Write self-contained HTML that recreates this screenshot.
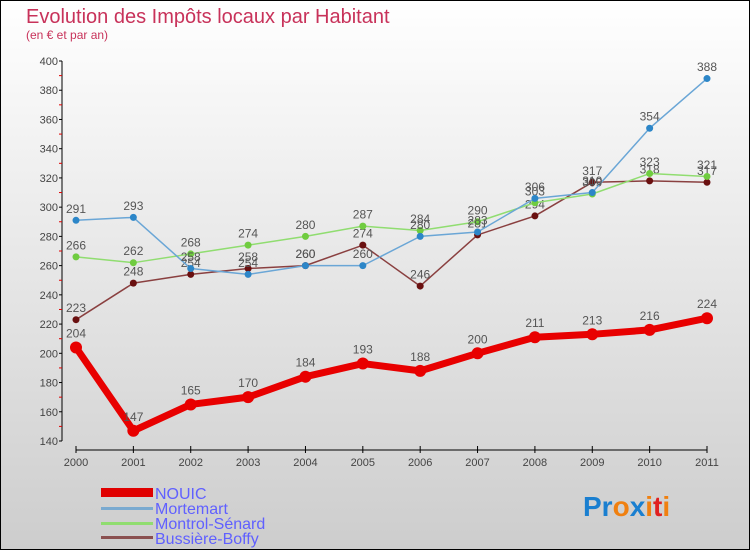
<!DOCTYPE html>
<html><head><meta charset="utf-8"><style>
html,body{margin:0;padding:0}
body{width:750px;height:550px;overflow:hidden;font-family:"Liberation Sans",sans-serif}
#wrap{position:relative;width:748px;height:548px;border:1px solid #000;background:linear-gradient(#ffffff,#cdcdcd)}
</style></head><body>
<div id="wrap">
<svg id="chart" width="748" height="548" style="position:absolute;left:0;top:0">
<text x="25" y="22" font-size="20" fill="#c8325a">Evolution des Impôts locaux par Habitant</text>
<text x="25" y="38" font-size="12" fill="#c8325a">(en € et par an)</text>
<g id="axes"></g><g id="series"></g>
<g font-size="16" fill="#6060ff">
<rect x="100" y="487" width="52" height="9" fill="#e00000"/>
<text x="154" y="498">NOUIC</text>
<rect x="100" y="506" width="52" height="3" fill="#7aaad0"/>
<text x="154" y="513">Mortemart</text>
<rect x="100" y="521" width="52" height="3" fill="#90dd70"/>
<text x="154" y="528">Montrol-Sénard</text>
<rect x="100" y="535" width="52" height="3" fill="#8a5050"/>
<text x="154" y="543">Bussière-Boffy</text>
</g>
<text x="582" y="515" font-size="28" font-weight="bold"><tspan fill="#1a7fd0">Pr</tspan><tspan fill="#f08010">o</tspan><tspan fill="#1a7fd0">x</tspan><tspan fill="#f08010">i</tspan><tspan fill="#e02020">t</tspan><tspan fill="#f08010">i</tspan></text>
</svg>
</div>
<script>
const years=[2000,2001,2002,2003,2004,2005,2006,2007,2008,2009,2010,2011];
const yTicks=[140,160,180,200,220,240,260,280,300,320,340,360,380,400];
const nouic=[204,147,165,170,184,193,188,200,211,213,216,224];
const mortemart=[291,293,258,254,260,260,280,283,306,310,354,388];
const montrol=[266,262,268,274,280,287,284,290,303,309,323,321];
const bussiere=[223,248,254,258,260,274,246,281,294,317,318,317];
const NS="http://www.w3.org/2000/svg";
const X=i=>75+i*(706-75)/11;
const Y=v=>440-(v-140)*(380/260);
function mk(tag,attrs,parent){const e=document.createElementNS(NS,tag);for(const k in attrs)e.setAttribute(k,attrs[k]);parent.appendChild(e);return e;}
const ax=document.getElementById('axes');
let yl=mk('line',{x1:61,y1:Y(400),x2:61,y2:Y(140),stroke:'#000'},ax);


yTicks.forEach((t,i)=>{
 mk('line',{x1:58,x2:61,y1:Y(t),y2:Y(t),stroke:'#000'},ax);
 if(i<yTicks.length-1)mk('line',{x1:58,x2:61,y1:Y(t+10),y2:Y(t+10),stroke:'#e00000'},ax);
 const tx=mk('text',{x:57,y:Y(t)+4,'font-size':11,'text-anchor':'end',fill:'#444'},ax);
 tx.textContent=t;
 
 
});
let xl=mk('line',{x1:75,y1:449,x2:706,y2:449,stroke:'#000'},ax);


years.forEach((y,i)=>{
 mk('line',{x1:X(i),x2:X(i),y1:445,y2:452,stroke:'#000'},ax);
 const tx=mk('text',{x:X(i),y:465,'font-size':11,'text-anchor':'middle',fill:'#444'},ax);
 tx.textContent=y;
 
 
});
const sg=document.getElementById('series');
function draw(name,vals,color,dot,w,r){
 const g=mk('g',{},sg);
 
 
 const pl=mk('polyline',{points:vals.map((v,i)=>X(i)+','+Y(v)).join(' '),fill:'none',stroke:color,'stroke-width':w,'stroke-linejoin':'round'},g);
 
 
 vals.forEach((v,i)=>{
  const c=mk('circle',{cx:X(i),cy:Y(v),r:r,fill:dot},g);
  
  
  const t=mk('text',{x:X(i),y:Y(v)-r-4,'font-size':12,'text-anchor':'middle',fill:'#555'},g);
  t.textContent=v;
  
  
 });
}
draw('bussiere',bussiere,'#8a4040','#6a1010',1.5,3.5);
draw('montrol',montrol,'#90dd70','#70cc40',1.5,3.5);
draw('mortemart',mortemart,'#6aa6d6','#2c86c8',1.5,3.5);
draw('nouic',nouic,'#e80000','#e80000',7,6);
</script>
</body></html>
